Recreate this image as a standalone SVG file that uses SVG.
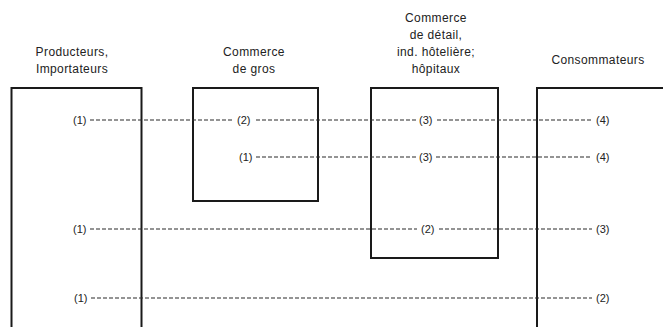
<svg xmlns="http://www.w3.org/2000/svg" width="663" height="327" viewBox="0 0 663 327">
  <style>
    .box { fill: none; stroke: #1a1a1a; stroke-width: 2; }
    .head { font-family: "Liberation Sans", Arial, sans-serif; font-size: 12px; fill: #222; text-anchor: middle; letter-spacing: 0.4px; }
    .num { font-family: "Liberation Sans", Arial, sans-serif; font-size: 11px; fill: #222; }
    .flow { stroke: #2a2a2a; stroke-width: 1.2; stroke-dasharray: 4 2; fill: none; }
  </style>
  <rect width="663" height="327" fill="#fff"/>

  <!-- Column nodes -->
  <g id="producteurs">
    <path class="box" d="M11.5,327 V88 H141.5 V327"/>
    <text class="head" x="72" y="56">Producteurs,</text>
    <text class="head" x="72" y="73">Importateurs</text>
  </g>
  <g id="commerce-gros">
    <rect class="box" x="193" y="88" width="125" height="113"/>
    <text class="head" x="254" y="56">Commerce</text>
    <text class="head" x="254" y="73">de gros</text>
  </g>
  <g id="commerce-detail">
    <rect class="box" x="371" y="88" width="127" height="170"/>
    <text class="head" x="436" y="22">Commerce</text>
    <text class="head" x="436" y="39">de détail,</text>
    <text class="head" x="436" y="56">ind. hôtelière;</text>
    <text class="head" x="436" y="73">hôpitaux</text>
  </g>
  <g id="consommateurs">
    <path class="box" d="M537,327 V88 H665"/>
    <text class="head" x="598" y="64">Consommateurs</text>
  </g>

  <!-- Distribution channels -->
  <g id="connectors">
    <path class="flow" d="M90,120 H234 M256,120 H417 M437,120 H592"/>
    <path class="flow" d="M256,157 H416 M436,157 H592"/>
    <path class="flow" d="M90,229 H417 M439,229 H592"/>
    <path class="flow" d="M91,298 H592"/>
  </g>

  <!-- Channel step numbers -->
  <g id="labels">
    <text class="num" x="73" y="124">(1)</text>
    <text class="num" x="237" y="124">(2)</text>
    <text class="num" x="419" y="124">(3)</text>
    <text class="num" x="596" y="124">(4)</text>

    <text class="num" x="239" y="161">(1)</text>
    <text class="num" x="419" y="161">(3)</text>
    <text class="num" x="596" y="161">(4)</text>

    <text class="num" x="73" y="233">(1)</text>
    <text class="num" x="421" y="233">(2)</text>
    <text class="num" x="596" y="233">(3)</text>

    <text class="num" x="74" y="302">(1)</text>
    <text class="num" x="596" y="302">(2)</text>
  </g>
</svg>
